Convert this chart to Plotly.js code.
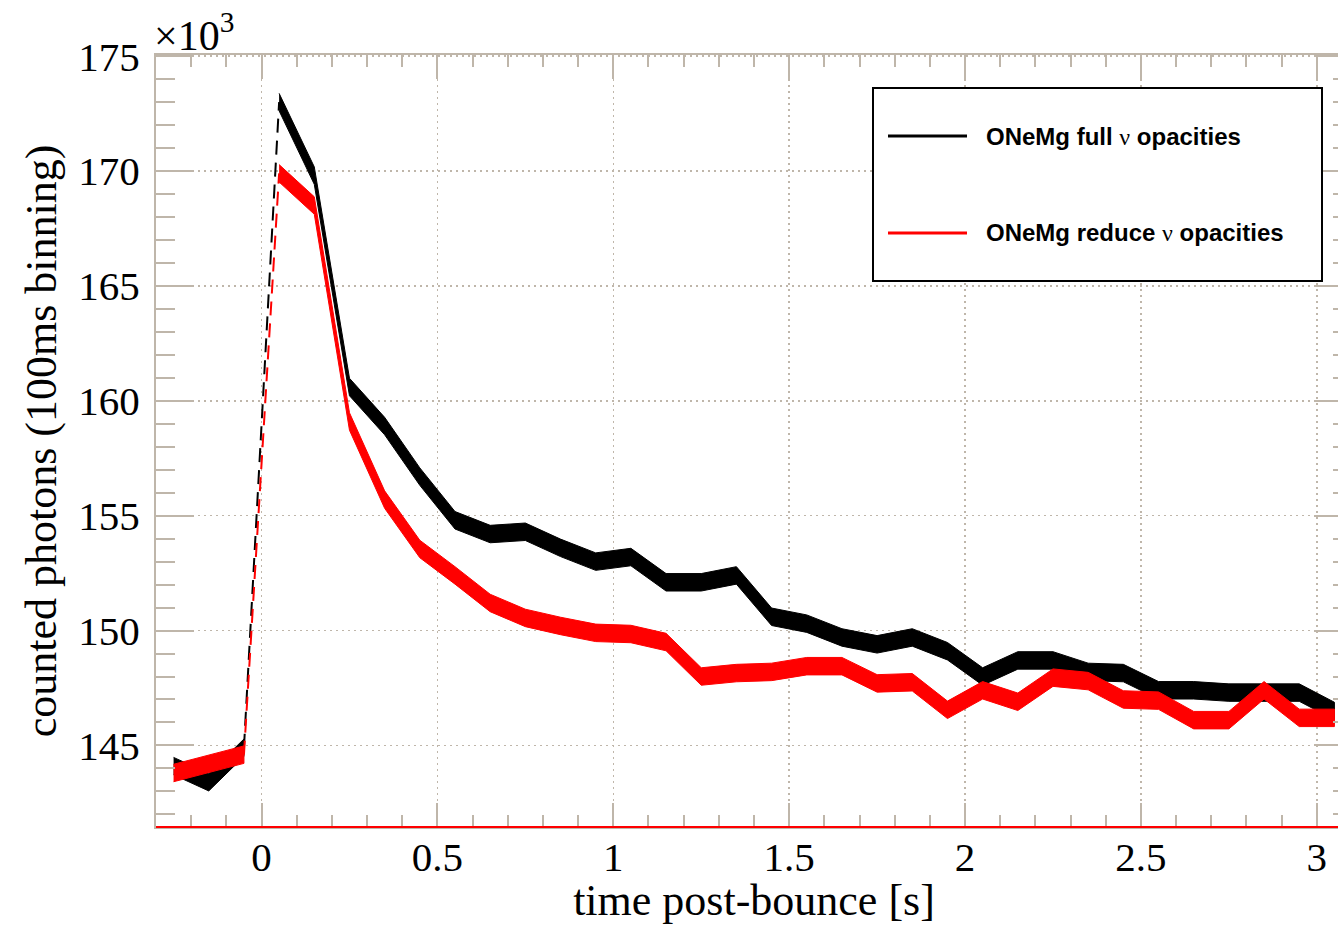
<!DOCTYPE html>
<html>
<head>
<meta charset="utf-8">
<script src="https://cdn.plot.ly/plotly-3.0.1.min.js"></script>
<style>
html,body{margin:0;padding:0;background:#fff;overflow:hidden;}
#chart{width:1356px;height:925px;}
</style>
</head>
<body>
<div id="chart"></div>
<script>
// ---- data (counted photons, in units of 10^3, 100 ms bins) ----
const timePre  = [-0.25, -0.15, -0.05];
const timePost = [0.05, 0.15, 0.25, 0.35, 0.45, 0.55, 0.65, 0.75, 0.85, 0.95,
                  1.05, 1.15, 1.25, 1.35, 1.45, 1.55, 1.65, 1.75, 1.85, 1.95,
                  2.05, 2.15, 2.25, 2.35, 2.45, 2.55, 2.65, 2.75, 2.85, 2.95, 3.05];

const fullPre  = [144.1, 143.4, 144.9];
const fullPost = [173.0, 169.8, 160.6, 158.9, 156.7, 154.8, 154.2, 154.3, 153.6, 153.0,
                  153.2, 152.1, 152.1, 152.4, 150.6, 150.3, 149.7, 149.4, 149.7, 149.1,
                  148.0, 148.7, 148.7, 148.2, 148.15, 147.4, 147.4, 147.3, 147.3, 147.3, 146.5];

const reducedPre  = [143.8, 144.2, 144.6];
const reducedPost = [169.9, 168.5, 159.1, 155.7, 153.55, 152.4, 151.2, 150.55, 150.2, 149.9,
                     149.85, 149.5, 148.0, 148.15, 148.2, 148.45, 148.45, 147.7, 147.75, 146.55,
                     147.4, 146.9, 147.95, 147.8, 147.0, 146.95, 146.1, 146.1, 147.4, 146.2, 146.2];

const bandHalfWidth = 0.38;   // statistical band half-width (10^3)

const seriesNames = ["ONeMg full ν opacities", "ONeMg reduce ν opacities"];
const xTickVals = [0, 0.5, 1, 1.5, 2, 2.5, 3];
const xTickText = ["0", "0.5", "1", "1.5", "2", "2.5", "3"];
const yTickVals = [145, 150, 155, 160, 165, 170, 175];
const yTickText = ["145", "150", "155", "160", "165", "170", "175"];

// ---- styling ----
const TAN = '#bfb6aa';
const SERIF = '"Liberation Serif", "Times New Roman", serif';
const SANS = '"Liberation Sans", Arial, sans-serif';

function band(xs, ys, color) {
  const up = ys.map(v => v + bandHalfWidth);
  const lo = ys.map(v => v - bandHalfWidth);
  return {
    x: xs.concat(xs.slice().reverse()),
    y: up.concat(lo.slice().reverse()),
    mode: 'lines', fill: 'toself', fillcolor: color,
    line: {color: color, width: 1},
    hoverinfo: 'skip', showlegend: false
  };
}
function connector(xPre, yPre, xPost, yPost, color) {
  return {
    x: [xPre[xPre.length - 1], xPost[0]],
    y: [yPre[yPre.length - 1], yPost[0]],
    mode: 'lines', line: {color: color, width: 2, dash: '14px,8px'},
    hoverinfo: 'skip', showlegend: false
  };
}

function legendLabel(name) {
  // bold sans text with the Greek nu drawn in a roman serif face
  return name.split('ν').map(s => '<b>' + s + '</b>').join('<span style="font-family:Liberation Serif">ν</span>');
}

const traces = [
  connector(timePre, fullPre, timePost, fullPost, 'black'),
  band(timePre, fullPre, 'black'),
  band(timePost, fullPost, 'black'),
  connector(timePre, reducedPre, timePost, reducedPost, '#ff0000'),
  band(timePre, reducedPre, '#ff0000'),
  band(timePost, reducedPost, '#ff0000')
];

// plot-area geometry (px) for placing the hand-drawn legend
const L = 156, W = 1196, T = 55, H = 772;
const px2x = p => (p - L) / W;
const px2y = p => 1 - (p - T) / H;

const layout = {
  width: 1356, height: 925,
  margin: {l: L, r: 1356 - L - W, t: T, b: 925 - T - H},
  paper_bgcolor: '#fff', plot_bgcolor: '#fff',
  font: {family: SERIF, color: '#000'},
  showlegend: false,
  xaxis: {
    range: [-0.3, 3.1],
    tickmode: 'array', tickvals: xTickVals, ticktext: xTickText,
    ticks: 'inside', ticklen: 24, tickwidth: 2, tickcolor: TAN,
    minor: {tickmode: 'linear', tick0: 0, dtick: 0.1, ticks: 'inside', ticklen: 12, tickwidth: 2, tickcolor: TAN, showgrid: false},
    showline: true, linecolor: TAN, linewidth: 2, mirror: 'ticks',
    showgrid: true, gridcolor: TAN, gridwidth: 1.5, griddash: '2px,4px',
    zeroline: false,
    tickfont: {family: SERIF, size: 41, color: '#000'},
    ticklabelstandoff: -7,
    title: {text: 'time post-bounce [s]', font: {family: SERIF, size: 44, color: '#000'}, standoff: 5},
    automargin: false
  },
  yaxis: {
    range: [141.45, 175.05],
    tickmode: 'array', tickvals: yTickVals, ticktext: yTickText,
    ticks: 'inside', ticklen: 38, tickwidth: 2, tickcolor: TAN,
    minor: {tickmode: 'linear', tick0: 145, dtick: 1, ticks: 'inside', ticklen: 19, tickwidth: 2, tickcolor: TAN, showgrid: false},
    showline: true, linecolor: TAN, linewidth: 2, mirror: 'ticks',
    showgrid: true, gridcolor: TAN, gridwidth: 1.5, griddash: '2px,4px',
    zeroline: false,
    tickfont: {family: SERIF, size: 41, color: '#000'},
    ticklabelstandoff: 6,
    title: {text: 'counted photons (100ms binning)', font: {family: SERIF, size: 44, color: '#000'}, standoff: 8},
    automargin: false
  },
  shapes: [
    // red base line along the bottom of the frame
    {type: 'line', xref: 'paper', yref: 'paper', x0: 0, x1: 1, y0: 0, y1: 0, line: {color: '#ff0000', width: 2}, layer: 'above'},
    // legend box
    {type: 'rect', xref: 'paper', yref: 'paper', x0: px2x(873), x1: px2x(1322), y0: px2y(281), y1: px2y(88),
     fillcolor: '#fff', line: {color: '#000', width: 2}, layer: 'above'},
    {type: 'line', xref: 'paper', yref: 'paper', x0: px2x(888), x1: px2x(967), y0: px2y(136), y1: px2y(136), line: {color: '#000', width: 3}, layer: 'above'},
    {type: 'line', xref: 'paper', yref: 'paper', x0: px2x(888), x1: px2x(967), y0: px2y(233), y1: px2y(233), line: {color: '#ff0000', width: 3}, layer: 'above'}
  ],
  annotations: [
    {xref: 'paper', yref: 'paper', x: 0, y: 1, xanchor: 'left', yanchor: 'bottom', showarrow: false,
     text: '×10<sup>3</sup>', font: {family: SERIF, size: 42, color: '#000'}, xshift: -4, yshift: -6},
    {xref: 'paper', yref: 'paper', x: px2x(984), y: px2y(136), xanchor: 'left', yanchor: 'middle', showarrow: false,
     text: legendLabel(seriesNames[0]), font: {family: SANS, size: 24, color: '#000'}},
    {xref: 'paper', yref: 'paper', x: px2x(984), y: px2y(233), xanchor: 'left', yanchor: 'middle', showarrow: false,
     text: legendLabel(seriesNames[1]), font: {family: SANS, size: 24, color: '#000'}}
  ]
};

Plotly.newPlot('chart', traces, layout, {staticPlot: true, displayModeBar: false});
</script>
</body>
</html>
